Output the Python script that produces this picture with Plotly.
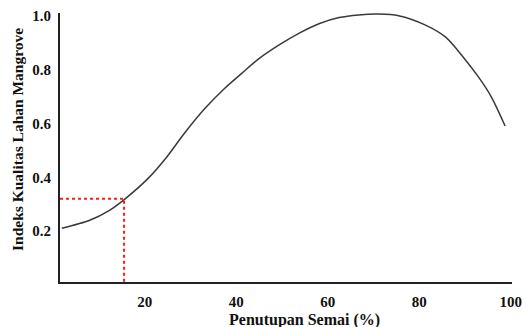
import plotly.graph_objects as go

# Data
cover_pct = [1.9, 8.0, 12.4, 15.6, 20.7, 24.8, 28.7, 33.1, 37.4, 41.4, 45.0, 49.4,
             53.8, 58.1, 62.5, 66.8, 71.2, 75.5, 81.4, 85.8, 89.3, 93.0, 95.8, 98.8]
quality_idx = [0.21, 0.24, 0.278, 0.318, 0.395, 0.475, 0.564, 0.655, 0.73, 0.79, 0.842, 0.893,
               0.937, 0.972, 0.995, 1.005, 1.008, 1.002, 0.967, 0.922, 0.855, 0.773, 0.699, 0.591]
marker_x = 15.5
marker_y = 0.32
x_ticks = [20, 40, 60, 80, 100]
y_ticks = [0.2, 0.4, 0.6, 0.8, 1.0]
y_tick_text = ["0.2", "0.4", "0.6", "0.8", "1.0"]

X_MIN, X_MAX = 1.5, 100.3
Y_MIN, Y_MAX = 0.01, 1.012

FONT = "Liberation Serif, Times New Roman, serif"
INK = "#111111"

fig = go.Figure()
fig.add_trace(go.Scatter(
    x=cover_pct, y=quality_idx, mode="lines",
    line=dict(color="#3a3a3a", width=1.5, shape="spline", smoothing=0.8),
    hoverinfo="skip", showlegend=False))
fig.add_trace(go.Scatter(
    x=[X_MIN, marker_x, marker_x], y=[marker_y, marker_y, Y_MIN], mode="lines",
    line=dict(color="#ff1a1a", width=2, dash="dot"),
    hoverinfo="skip", showlegend=False))

L, R, T, B = 60, 10, 13, 45
fig.update_layout(
    width=522, height=327,
    margin=dict(l=L, r=R, t=T, b=B, autoexpand=False),
    paper_bgcolor="white", plot_bgcolor="white",
    font=dict(family=FONT, color=INK, size=15),
    xaxis=dict(range=[X_MIN, X_MAX], tickvals=x_ticks,
               ticktext=["<b>%d</b>" % v for v in x_ticks],
               automargin=False,
               showgrid=False, zeroline=False, showline=True, linecolor="#222222", linewidth=2,
               ticks="", ticklabelstandoff=5,
               tickfont=dict(family=FONT, size=15, color=INK)),
    yaxis=dict(range=[Y_MIN, Y_MAX], tickvals=y_ticks,
               ticktext=["<b>%s</b>" % t for t in y_tick_text],
               automargin=False,
               showgrid=False, zeroline=False, showline=True, linecolor="#222222", linewidth=2,
               ticks="", ticklabelstandoff=4,
               tickfont=dict(family=FONT, size=15, color=INK)),
    annotations=[
        dict(text="<b>Penutupan Semai (%)</b>", xref="paper", yref="paper",
             x=(304 - L) / (522 - L - R), y=-(320 - 282) / (327 - T - B),
             xanchor="center", yanchor="middle",
             showarrow=False, font=dict(family=FONT, size=16, color=INK)),
        dict(text="<b>Indeks Kualitas Lahan Mangrove</b>", xref="paper", yref="paper",
             x=-(60 - 17) / (522 - L - R), y=(284 - 142) / (327 - T - B),
             xanchor="center", yanchor="middle", textangle=-90,
             showarrow=False, font=dict(family=FONT, size=15.5, color=INK)),
    ],
)

fig.write_html("out.html", config={"displayModeBar": False},
               post_script="document.body.style.margin='0';document.body.style.overflow='hidden';")
